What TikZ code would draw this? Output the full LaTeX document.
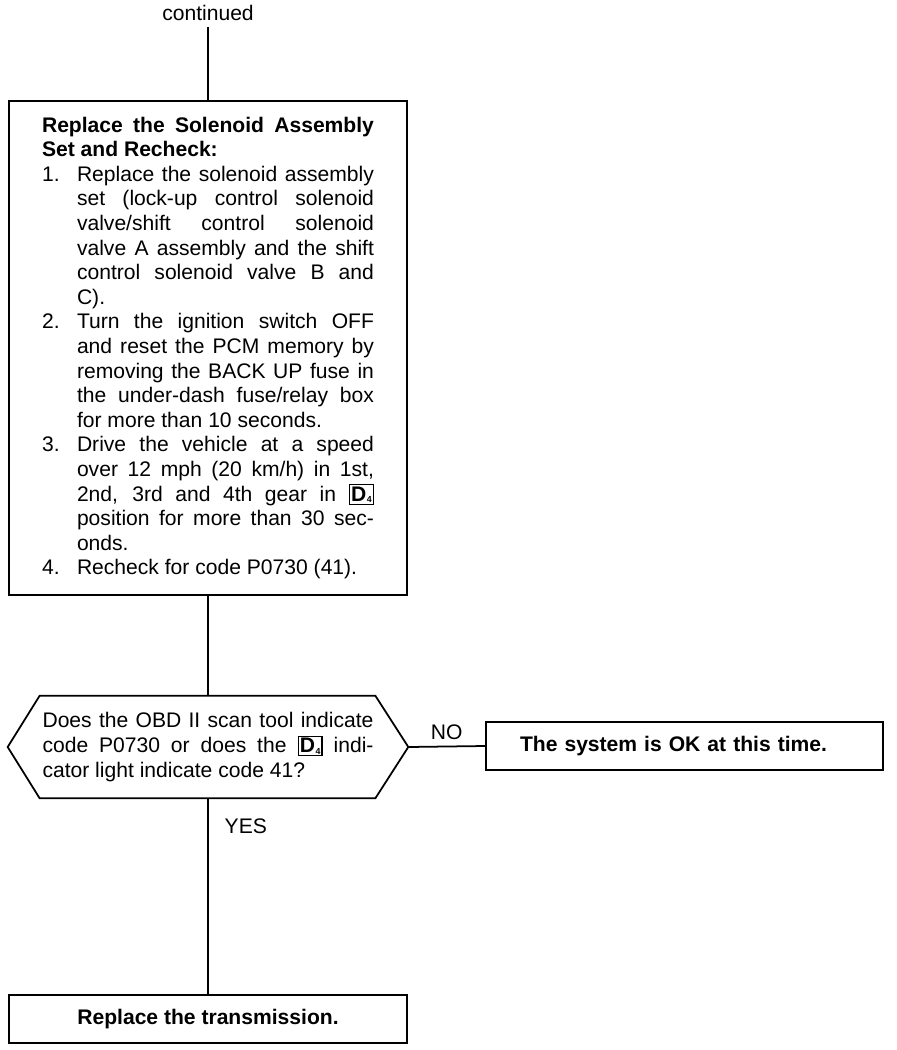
\documentclass[tikz,border=0pt]{standalone}
\usepackage{fontspec}
\setmainfont{Liberation Sans}
\usetikzlibrary{positioning}
\usetikzlibrary{calc}

% boxed D4 position symbol
\newcommand{\Dsym}{{\setlength{\fboxsep}{0.6pt}\setlength{\fboxrule}{0.7pt}%
  \fbox{\textbf{D}\kern0.3pt\raisebox{-0.15ex}{\tiny\textbf{4}}}}}
% numbered step with hanging indent
\newcommand{\itm}[1]{\par\hangindent=0.7cm\hangafter=1\noindent\makebox[0.7cm][l]{#1}}

\begin{document}
\begin{tikzpicture}[x=0.02cm, y=-0.02cm,
  every node/.style={font=\fontsize{12}{14}\selectfont},
  box/.style={draw, line width=1pt, inner sep=0pt},
  link/.style={line width=1pt}]

\useasboundingbox (0,0) rectangle (896,1050);

%---------------------------------------
% Top: solenoid replacement
%---------------------------------------
\node (cont) at (208,13) {continued};

\node[box, minimum width=7.96cm, minimum height=9.88cm, text width=6.64cm, align=justify]
  (solenoid) at (208,348) {\hyphenpenalty=10000
  \noindent\textbf{Replace the Solenoid Assembly\linebreak Set and Recheck:}
  \itm{1.}Replace the solenoid assembly\linebreak set (lock-up control solenoid\linebreak
    valve/shift control solenoid\linebreak valve A assembly and the shift\linebreak
    control solenoid valve B and\linebreak C).
  \itm{2.}Turn the ignition switch OFF\linebreak and reset the PCM memory by\linebreak
    removing the BACK UP fuse in\linebreak the under-dash fuse/relay box\linebreak
    for more than 10 seconds.
  \itm{3.}Drive the vehicle at a speed\linebreak over 12 mph (20 km/h) in 1st,\linebreak
    2nd, 3rd and 4th gear in \Dsym\linebreak position for more than 30 sec-\linebreak
    onds.
  \itm{4.}Recheck for code P0730 (41).\par};

%---------------------------------------
% Decision
%---------------------------------------
\node[minimum width=8cm, minimum height=2.04cm, inner sep=0pt, text width=6.62cm, align=justify]
  (q) at (208,747) {\hyphenpenalty=10000
  Does the OBD II scan tool indicate\linebreak code P0730 or does the \Dsym{} indi-\linebreak
  cator light indicate code 41?};
\draw[link] (q.west) -- ([xshift=0.64cm]q.north west) -- ([xshift=-0.66cm]q.north east)
  -- (q.east) -- ([xshift=-0.66cm]q.south east) -- ([xshift=0.64cm]q.south west) -- cycle;

\node[box, minimum width=7.94cm, minimum height=0.96cm, text width=6.58cm, align=left]
  (ok) at (684.5,746) {\textbf{The system is OK at this time.}};

\node[box, minimum width=7.96cm, minimum height=0.96cm]
  (trans) at (208,1019) {\textbf{Replace the transmission.}};

% Connectors
\draw[link] (cont.south) -- (solenoid.north);
\draw[link] (solenoid.south) -- (q.north);
\draw[link] (q.east) -- node[above] (no) {NO} (ok.west);
\draw[link] (q.south) -- node[pos=0.14, right=0.2cm] (yes) {YES} (trans.north);

\end{tikzpicture}
\end{document}
